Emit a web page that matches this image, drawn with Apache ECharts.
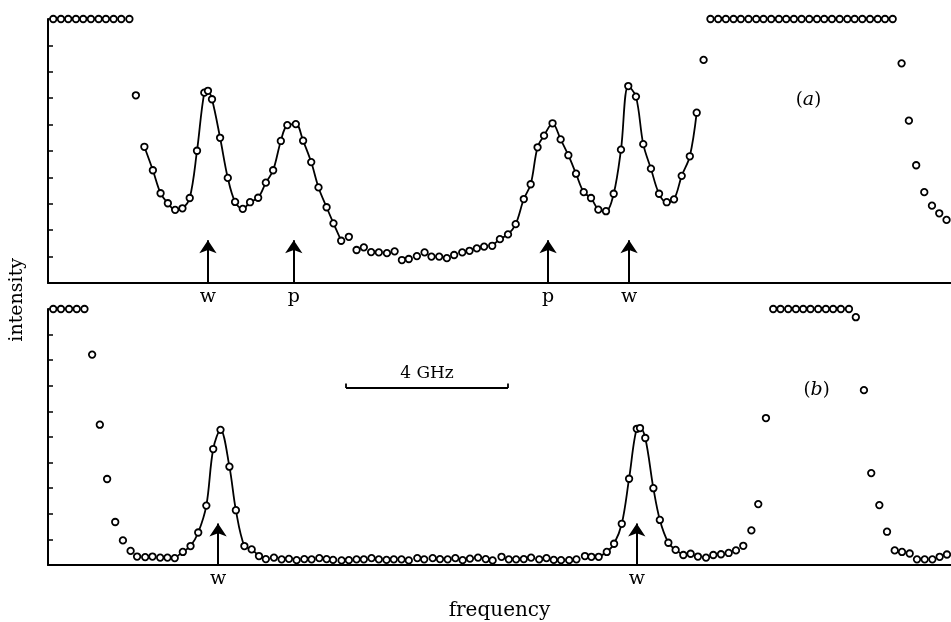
<!DOCTYPE html>
<html>
<head>
<meta charset="utf-8">
<script src="https://cdn.jsdelivr.net/npm/echarts@6/dist/echarts.min.js"></script>
<style>html,body{margin:0;padding:0;background:#fff;}#c{width:951px;height:622px;}</style>
</head>
<body>
<div id="c"></div>
<script>
// ---- Panel (a) data: [frequency (GHz), intensity] ----
var aLeftPlateau = [[0.13,10],[0.32,10],[0.50,10],[0.69,10],[0.87,10],[1.06,10],[1.25,10],[1.43,10],[1.62,10],[1.81,10],[2.01,10],[2.17,7.11]];
var aLeftPeaks = [[2.38,5.16],[2.59,4.27],[2.78,3.40],[2.96,3.02],[3.14,2.77],[3.32,2.83],[3.50,3.22],[3.68,5.01],[3.86,7.21],[3.95,7.28],[4.05,6.96],[4.25,5.50],[4.44,3.98],[4.62,3.07],[4.81,2.81],[4.99,3.06],[5.19,3.23],[5.38,3.80],[5.56,4.27],[5.75,5.38],[5.91,5.98],[6.12,6.02],[6.30,5.39],[6.50,4.58],[6.68,3.62],[6.88,2.87],[7.05,2.26],[7.24,1.60]];
var aValley = [[7.43,1.75],[7.62,1.25],[7.80,1.35],[7.98,1.17],[8.17,1.16],[8.37,1.13],[8.56,1.20],[8.74,0.87],[8.91,0.91],[9.11,1.02],[9.30,1.16],[9.47,1.00],[9.66,1.00],[9.85,0.94],[10.03,1.06],[10.23,1.16],[10.41,1.22],[10.59,1.31],[10.77,1.38]];
var aRightPeaks = [[10.97,1.41],[11.16,1.66],[11.36,1.84],[11.55,2.23],[11.75,3.18],[11.92,3.74],[12.09,5.14],[12.25,5.58],[12.46,6.05],[12.66,5.44],[12.85,4.84],[13.04,4.14],[13.23,3.44],[13.41,3.22],[13.59,2.78],[13.78,2.72],[13.97,3.38],[14.15,5.05],[14.33,7.46],[14.52,7.06],[14.70,5.26],[14.89,4.33],[15.09,3.38],[15.28,3.06],[15.46,3.17],[15.65,4.06],[15.85,4.80],[16.02,6.45]];
var aRightPlateau = [[16.19,8.45],[16.36,10],[16.55,10],[16.74,10],[16.93,10],[17.11,10],[17.30,10],[17.49,10],[17.67,10],[17.86,10],[18.05,10],[18.23,10],[18.42,10],[18.61,10],[18.80,10],[18.99,10],[19.17,10],[19.36,10],[19.55,10],[19.74,10],[19.92,10],[20.11,10],[20.30,10],[20.49,10],[20.67,10],[20.86,10],[21.08,8.32],[21.26,6.15],[21.44,4.46],[21.64,3.44],[21.83,2.93],[22.01,2.64],[22.19,2.39]];
var aMarks = [[3.95,'w'],[6.07,'p'],[12.35,'p'],[14.35,'w']];

// ---- Panel (b) data ----
var bLeftPlateau = [[0.13,10],[0.32,10],[0.52,10],[0.71,10],[0.90,10],[1.09,8.22],[1.28,5.48],[1.46,3.36],[1.66,1.68],[1.85,0.96],[2.04,0.55],[2.20,0.33],[2.40,0.31],[2.58,0.33],[2.77,0.29],[2.95,0.29]];
var bPeak1 = [[3.13,0.27],[3.33,0.51],[3.52,0.74],[3.71,1.27],[3.91,2.32],[4.08,4.53],[4.26,5.28],[4.48,3.84],[4.64,2.14],[4.85,0.74],[5.03,0.61],[5.21,0.35]];
var bFlat = [[5.38,0.23],[5.58,0.29],[5.77,0.22],[5.95,0.24],[6.14,0.19],[6.33,0.23],[6.51,0.22],[6.70,0.27],[6.88,0.23],[7.04,0.20],[7.25,0.18],[7.43,0.19],[7.62,0.22],[7.80,0.22],[7.99,0.27],[8.17,0.22],[8.36,0.20],[8.54,0.22],[8.73,0.22],[8.91,0.18],[9.12,0.27],[9.29,0.22],[9.50,0.27],[9.68,0.23],[9.87,0.22],[10.06,0.27],[10.24,0.19],[10.42,0.25],[10.62,0.29],[10.81,0.23],[10.98,0.18],[11.20,0.32],[11.38,0.22],[11.56,0.22],[11.75,0.23],[11.93,0.29],[12.13,0.22],[12.31,0.27],[12.49,0.20],[12.67,0.19],[12.87,0.19],[13.05,0.22],[13.26,0.35],[13.42,0.32]];
var bPeak2 = [[13.60,0.32],[13.80,0.51],[13.98,0.83],[14.17,1.61],[14.35,3.37],[14.54,5.32],[14.62,5.35],[14.75,4.96],[14.95,3.00],[15.11,1.76],[15.32,0.87],[15.50,0.59],[15.69,0.39]];
var bRight = [[15.87,0.44],[16.05,0.33],[16.25,0.29],[16.43,0.39],[16.62,0.42],[16.81,0.47],[16.99,0.57],[17.17,0.75],[17.37,1.35],[17.54,2.38],[17.73,5.74],[17.91,10],[18.09,10],[18.28,10],[18.47,10],[18.65,10],[18.83,10],[19.02,10],[19.21,10],[19.39,10],[19.58,10],[19.78,10],[19.95,9.68],[20.15,6.83],[20.33,3.59],[20.53,2.34],[20.72,1.30],[20.91,0.57],[21.09,0.51],[21.28,0.45],[21.46,0.22],[21.65,0.22],[21.84,0.22],[22.02,0.32],[22.20,0.41]];
var bMarks = [[4.20,'w'],[14.54,'w']];
var scaleBar = [7.36, 11.36, 6.91]; // from, to (GHz), intensity level
var scaleText = '4 GHz';

var SERIF = '"DejaVu Serif", "Liberation Serif", serif';
var INK = '#000';
var ARROW_TOP = 1.62;

function xAx(idx, extra) {
  var o = { type:'value', gridIndex:idx, min:0, max:22.3,
    axisLine:{show:true, onZero:false, lineStyle:{color:INK, width:2}},
    axisTick:{show:false}, axisLabel:{show:false}, splitLine:{show:false} };
  for (var k in extra) o[k] = extra[k];
  return o;
}
function yAx(idx) {
  return { type:'value', gridIndex:idx, min:0, max:10, interval:1,
    axisLine:{show:true, onZero:false, lineStyle:{color:INK, width:2}},
    axisTick:{show:true, inside:true, length:5, lineStyle:{color:INK, width:1.5}},
    axisLabel:{show:false}, splitLine:{show:false} };
}
function pts(idx, data) {
  return { type:'scatter', xAxisIndex:idx, yAxisIndex:idx, data:data, symbol:'circle', symbolSize:6.5,
    clip:false, silent:true, z:5,
    itemStyle:{color:'#fff', borderColor:INK, borderWidth:1.8, opacity:1} };
}
function fit(idx, data) {
  return { type:'line', xAxisIndex:idx, yAxisIndex:idx, data:data, smooth:0.35, showSymbol:false,
    symbol:'none', silent:true, z:3, lineStyle:{color:INK, width:1.8} };
}
function textSeries(idx, data, label) {
  return { type:'scatter', xAxisIndex:idx, yAxisIndex:idx, symbolSize:0, silent:true, z:6,
    itemStyle:{opacity:1}, data:data, label:label };
}
function arrows(idx, marks) {
  var s = textSeries(idx, marks.map(function(m){ return {value:[m[0],0], name:m[1]}; }),
    {show:true, position:'bottom', distance:5, formatter:'{b}', color:INK, fontFamily:SERIF, fontSize:19, opacity:1});
  s.markLine = { silent:true, animation:false, symbol:['none','arrow'], symbolSize:13,
      label:{show:false}, lineStyle:{color:INK, width:2, type:'solid', opacity:1},
      data: marks.map(function(m){ return [{coord:[m[0],0]},{coord:[m[0],ARROW_TOP]}]; }) };
  return s;
}
function panelLabel(idx, pos, letter) {
  return textSeries(idx, [{value:pos}],
    {show:true, position:'inside', formatter:'({i|' + letter + '})', color:INK, fontFamily:SERIF, fontSize:18, opacity:1,
     rich:{i:{fontStyle:'italic', fontFamily:SERIF, fontSize:19, color:INK}}});
}

var chart = echarts.init(document.getElementById('c'), null, {renderer:'canvas'});
var scaleSeries = textSeries(1, [{value:[(scaleBar[0]+scaleBar[1])/2, scaleBar[2]]}],
  {show:true, position:'top', distance:6, formatter:scaleText, color:INK, fontFamily:SERIF, fontSize:17, opacity:1});
scaleSeries.markLine = { silent:true, animation:false, symbol:'none', label:{show:false},
  lineStyle:{color:INK, width:1.8, type:'solid', opacity:1},
  data:[
    [{coord:[scaleBar[0],scaleBar[2]]},{coord:[scaleBar[1],scaleBar[2]]}],
    [{coord:[scaleBar[0],scaleBar[2]]},{coord:[scaleBar[0],scaleBar[2]+0.18]}],
    [{coord:[scaleBar[1],scaleBar[2]]},{coord:[scaleBar[1],scaleBar[2]+0.18]}]
  ] };

chart.setOption({
  animation:false,
  backgroundColor:'#fff',
  grid:[
    {left:48, right:0, top:19, height:264},
    {left:48, right:0, top:309, height:262}
  ],
  xAxis:[ xAx(0, {}), xAx(1, {name:'frequency', nameLocation:'middle', nameGap:36,
      nameTextStyle:{color:INK, fontFamily:SERIF, fontSize:20}}) ],
  yAxis:[ yAx(0), yAx(1) ],
  graphic:[
    {type:'text', left:8, top:258, rotation:Math.PI/2,
     style:{text:'intensity', fill:INK, font:'19px "DejaVu Serif", serif'}}
  ],
  series:[
    fit(0, aLeftPeaks), fit(0, aRightPeaks),
    pts(0, aLeftPlateau.concat(aLeftPeaks, aValley, aRightPeaks, aRightPlateau)),
    arrows(0, aMarks),
    panelLabel(0, [18.78,6.93], 'a'),
    fit(1, bPeak1), fit(1, bPeak2),
    pts(1, bLeftPlateau.concat(bPeak1, bFlat, bPeak2, bRight)),
    arrows(1, bMarks),
    scaleSeries,
    panelLabel(1, [18.98,6.83], 'b')
  ]
});
</script>
</body>
</html>
